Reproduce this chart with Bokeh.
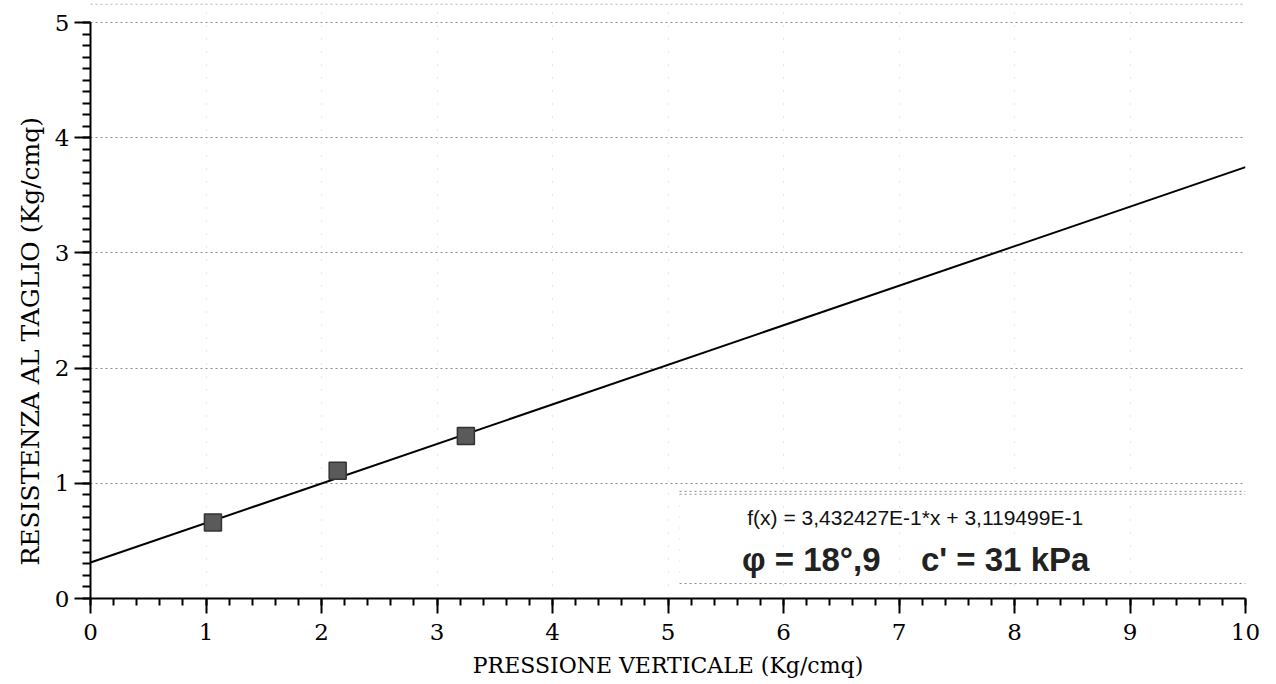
from bokeh.plotting import figure
from bokeh.models import Range1d, FixedTicker, Span, Label, ColumnDataSource, Title
from bokeh.embed import file_html
from bokeh.resources import INLINE
import numpy as np

# data
pressione = [1.06, 2.14, 3.25]          # Kg/cmq
resistenza = [0.66, 1.11, 1.41]         # Kg/cmq
slope = 0.3432427
intercept = 0.3119499
x_ticks = [0, 1, 2, 3, 4, 5, 6, 7, 8, 9, 10]
y_ticks = [0, 1, 2, 3, 4, 5]
x_label = "PRESSIONE VERTICALE (Kg/cmq)"
y_label = "RESISTENZA AL TAGLIO (Kg/cmq)"
eq_text = "f(x) = 3,432427E-1*x + 3,119499E-1"
phi_text = "\u03c6 = 18\u00b0,9"
c_text = "c' = 31 kPa"

p = figure(width=1276, height=684, output_backend="svg", toolbar_location=None,
           x_range=Range1d(0, 10), y_range=Range1d(0, 5.165),
           min_border_left=90, min_border_right=31, min_border_top=3, min_border_bottom=86)
p.outline_line_color = None
p.background_fill_color = "white"
p.border_fill_color = "white"

# fit line
lx = np.array([0.0, 10.0])
p.line(lx, slope * lx + intercept, line_color="black", line_width=2)
src = ColumnDataSource(dict(x=pressione, y=resistenza))
p.scatter("x", "y", source=src, marker="square", size=17,
          fill_color="#5a5a5a", line_color="#333333", line_width=1.5)

# axes
p.xaxis.ticker = FixedTicker(ticks=x_ticks, minor_ticks=[i * 0.2 for i in range(51)])
p.yaxis.ticker = FixedTicker(ticks=y_ticks, minor_ticks=[i * 0.1 for i in range(51)])
p.yaxis.bounds = (0, 5)
for ax in (p.xaxis[0], p.yaxis[0]):
    ax.axis_line_color = "black"
    ax.axis_line_width = 2
    ax.major_tick_line_color = "black"
    ax.major_tick_line_width = 2
    ax.minor_tick_line_color = "black"
    ax.minor_tick_line_width = 2
    ax.major_tick_in = 0
    ax.minor_tick_in = 0
    ax.major_label_text_font = "DejaVu Serif"
    ax.major_label_text_font_size = "23px"
    ax.major_label_text_color = "black"
    ax.axis_label_text_font = "DejaVu Serif"
    ax.axis_label_text_font_style = "normal"
    ax.axis_label_text_color = "black"
p.xaxis.axis_label_text_font_size = "22px"
p.xaxis.major_tick_out = 15
p.xaxis.minor_tick_out = 7
p.yaxis.major_tick_out = 16
p.yaxis.minor_tick_out = 8
p.xaxis.major_label_standoff = 10
p.yaxis.major_label_standoff = 5
p.xaxis.axis_label = x_label
p.xaxis.axis_label_standoff = 10

# y axis title as a side title, starting a little above the frame bottom
p.add_layout(Title(text=y_label, align="left", offset=33, standoff=14,
                   text_font="DejaVu Serif", text_font_size="25px",
                   text_font_style="normal", text_color="black"), "left")

# grids
p.ygrid.grid_line_color = "#8a8a8a"
p.ygrid.grid_line_dash = "2 3"
p.ygrid.grid_line_width = 1
p.xgrid.grid_line_color = "#cfcfcf"
p.xgrid.grid_line_dash = "1 12"
p.xgrid.grid_line_width = 1

# top dotted border
p.add_layout(Span(location=5.16, dimension="width", line_color="#9a9a9a",
                  line_dash="2 3", line_width=1))

# annotation box (dotted frame)
box_left, box_top1, box_top2, box_bottom = 5.1, 0.93, 0.905, 0.13
p.segment(x0=[box_left, box_left, box_left], y0=[box_top1, box_top2, box_bottom],
          x1=[10, 10, 10], y1=[box_top1, box_top2, box_bottom],
          line_color="#8a8a8a", line_dash="2 3", line_width=1)
p.segment(x0=[box_left], y0=[box_bottom], x1=[box_left], y1=[box_top1],
          line_color="#dddddd", line_dash="1 10", line_width=1)

p.add_layout(Label(x=7.14, y=0.70, text=eq_text, text_align="center",
                   text_baseline="alphabetic", text_font="Liberation Sans",
                   text_font_size="21px", text_color="#111111"))
p.add_layout(Label(x=5.64, y=0.335, text=phi_text, text_align="left",
                   text_baseline="alphabetic", text_font="Liberation Sans",
                   text_font_size="33px", text_font_style="bold", text_color="#222222"))
p.add_layout(Label(x=7.19, y=0.335, text=c_text, text_align="left",
                   text_baseline="alphabetic", text_font="Liberation Sans",
                   text_font_size="33px", text_font_style="bold", text_color="#222222"))

open("out.html", "w").write(file_html(p, INLINE))
